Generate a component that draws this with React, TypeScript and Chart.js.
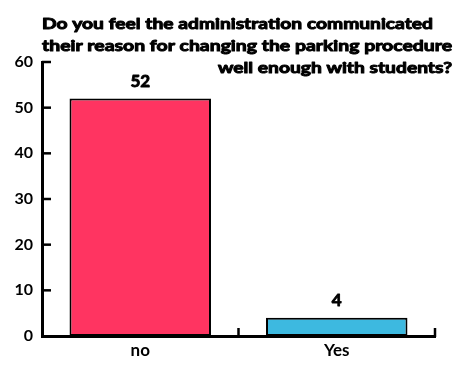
import React, { useEffect, useRef } from "react";
import { Chart, registerables } from "chart.js";

Chart.register(...registerables);

const categories = ["no", "Yes"];
const values = [52, 4];
const barColors = ["#FF3461", "#3DB9E0"];
const titleLines = [
  "Do you feel the administration communicated",
  "their reason for changing the parking procedure",
  "well enough with students?",
];
const yMax = 60;
const yStep = 10;

const FONT = "Lato, 'DejaVu Sans', sans-serif";

const decorPlugin = {
  id: "decor",
  afterDraw(chart: any) {
    const ctx = chart.ctx;
    const area = chart.chartArea;
    const xs = chart.scales.x;
    const ys = chart.scales.y;
    ctx.save();
    ctx.strokeStyle = "#000";
    ctx.lineWidth = 2.5;
    ctx.lineCap = "butt";
    // inward y ticks
    ys.ticks.forEach((t: any) => {
      const py = ys.getPixelForValue(t.value);
      if (t.value === 0) return;
      ctx.beginPath();
      ctx.moveTo(area.left, py);
      ctx.lineTo(area.left + 9, py);
      ctx.stroke();
    });
    // inward x ticks at category boundaries
    const n = categories.length;
    for (let i = 1; i <= n; i++) {
      const px = (xs.getPixelForValue(i - 1) + (i < n ? xs.getPixelForValue(i) : 2 * xs.getPixelForValue(i - 1) - xs.getPixelForValue(i - 2))) / 2;
      ctx.beginPath();
      ctx.moveTo(px, area.bottom + 1);
      ctx.lineTo(px, area.bottom - 8);
      ctx.stroke();
    }
    // value labels
    const meta = chart.getDatasetMeta(0);
    ctx.fillStyle = "#000";
    ctx.lineWidth = 0.9;
    ctx.lineJoin = "round";
    ctx.font = "bold 17px " + FONT;
    ctx.textAlign = "center";
    ctx.textBaseline = "bottom";
    meta.data.forEach((el: any, i: number) => {
      ctx.fillText(String(values[i]), el.x, el.y - 9);
      ctx.strokeText(String(values[i]), el.x, el.y - 9);
    });
    // title
    ctx.font = "bold 16px " + FONT;
    ctx.textBaseline = "alphabetic";
    const targets = [
      { x: 42, w: 391, align: "left", y: 29 },
      { x: 42, w: 410, align: "left", y: 51 },
      { x: 452, w: 234, align: "right", y: 73 },
    ];
    titleLines.forEach((line, i) => {
      const t = targets[i];
      const mw = ctx.measureText(line).width;
      const s = t.w / mw;
      ctx.save();
      ctx.translate(t.x, t.y);
      ctx.scale(s, 1);
      ctx.textAlign = t.align as CanvasTextAlign;
      ctx.lineWidth = 1;
      ctx.fillText(line, 0, 0);
      ctx.strokeText(line, 0, 0);
      ctx.restore();
    });
    ctx.restore();
  },
};

export default function App() {
  const ref = useRef<HTMLCanvasElement>(null);
  useEffect(() => {
    document.body.style.margin = "0";
    const chart = new Chart(ref.current!, {
      type: "bar",
      data: {
        labels: categories,
        datasets: [
          {
            data: values,
            backgroundColor: barColors,
            borderColor: "#000",
            borderWidth: 2,
            borderSkipped: false,
            categoryPercentage: 0.72,
            barPercentage: 1,
          },
        ],
      },
      options: {
        animation: false,
        responsive: false,
        maintainAspectRatio: false,
        layout: { padding: { top: 62, right: 40, left: 0, bottom: 0 } },
        plugins: {
          legend: { display: false },
          title: { display: false },
          tooltip: { enabled: false },
        },
        scales: {
          x: {
            afterFit: (s: any) => {
              s.height = 35;
            },
            grid: { display: false, drawTicks: false },
            border: { display: true, color: "#000", width: 3 },
            ticks: {
              color: "#000",
              padding: 4,
              font: { family: FONT, size: 17, weight: "bold" },
            },
          },
          y: {
            min: 0,
            max: yMax,
            afterFit: (s: any) => {
              s.width = 42;
            },
            grid: { display: false, drawTicks: false },
            border: { display: true, color: "#000", width: 3 },
            ticks: {
              stepSize: yStep,
              color: "#000",
              padding: 9,
              font: { family: FONT, size: 16, weight: "bold" },
            },
          },
        },
      },
      plugins: [decorPlugin],
    });
    return () => chart.destroy();
  }, []);
  return <canvas ref={ref} width={475} height={371} style={{ display: "block" }} />;
}
